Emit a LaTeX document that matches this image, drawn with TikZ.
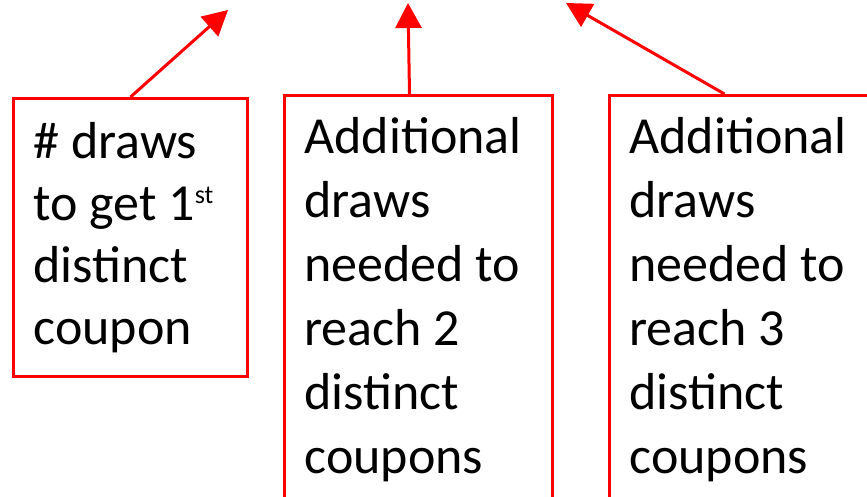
\documentclass[tikz,border=0pt]{standalone}
\usepackage{fontspec}
\setmainfont{Carlito}
\usetikzlibrary{arrows.meta}

\tikzset{
  redbox/.style={draw=red, line width=3pt, anchor=north west, align=left,
    inner xsep=20pt, inner ysep=0pt, font=\fontsize{52}{64}\selectfont,
    execute at begin node={\spaceskip=0pt\xspaceskip=0pt}},
  uparrow/.style={draw=red, line width=3pt, -{Triangle[length=25pt,width=26pt]}}
}
\newcommand{\ordsup}[1]{\raisebox{17pt}{\fontsize{26}{26}\selectfont #1}}

\begin{document}
\begin{tikzpicture}[x=1pt,y=-1pt]
			%%%%% START %%%%%
			\useasboundingbox (0,0) rectangle (867,497);
			\clip (0,0) rectangle (867,497);
			
			% boxes
			\node[redbox, text width=194pt, minimum height=278pt,
				font=\fontsize{52}{62}\selectfont] (b1) at (12,97)
				{\# draws\\to get 1\ordsup{st}\\distinct\\coupon\par\vspace{10pt}};
			\node[redbox, text width=228pt, minimum height=408pt] (b2) at (283,94)
				{Additional\\draws\\needed to\\reach 2\\distinct\\coupons};
			\node[redbox, text width=228pt, minimum height=408pt] (b3) at (608,94)
				{Additional\\draws\\needed to\\reach 3\\distinct\\coupons};
			
			% arrow tips
			\coordinate (t1) at (228,10);
			\coordinate (t2) at (408,3);
			\coordinate (t3) at (566,3);
			
			\draw[uparrow] (b1.north) -- (t1);
			\draw[uparrow] ([xshift=-9pt]b2.north) -- (t2);
			\draw[uparrow] ([xshift=-19pt]b3.north) -- (t3);
			
			%%%%% END %%%%%
\end{tikzpicture}
\end{document}
